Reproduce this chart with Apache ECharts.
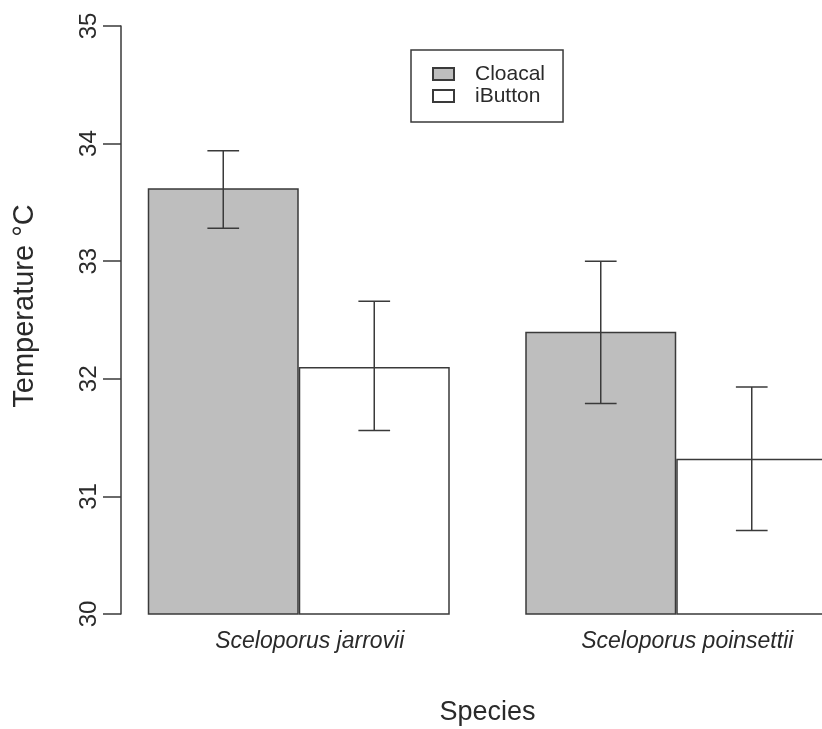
<!DOCTYPE html>
<html>
<head>
<meta charset="utf-8">
<script src="https://cdn.jsdelivr.net/npm/echarts@6/dist/echarts.min.js"></script>
<style>
html,body{margin:0;padding:0;background:#fff;}
#chart{width:822px;height:729px;}
</style>
</head>
<body>
<div id="chart"></div>
<script>
// ---- data ----
const categories = ['Sceloporus jarrovii', 'Sceloporus poinsettii'];
const seriesNames = ['Cloacal', 'iButton'];
const cloacalMean = [33.62, 32.40];
const cloacalLow  = [33.28, 31.79];
const cloacalHigh = [33.94, 33.00];
const ibuttonMean = [32.10, 31.32];
const ibuttonLow  = [31.56, 30.71];
const ibuttonHigh = [32.66, 31.93];
const yTicks = [30, 31, 32, 33, 34, 35];

const FONT = "'Liberation Sans', Arial, sans-serif";
const INK = '#2a2a2a';
const EDGE = '#3a3a3a';

const chart = echarts.init(document.getElementById('chart'), null, {renderer: 'canvas'});

function errorSeries(k, low, high) {
  return {
    type: 'custom',
    name: seriesNames[k] + ' error',
    z: 5,
    silent: true,
    data: categories.map((c, i) => [i, low[i], high[i]]),
    encode: {x: 0, y: [1, 2]},
    renderItem: function (params, api) {
      const i = api.value(0);
      const lo = api.coord([i, api.value(1)]);
      const hi = api.coord([i, api.value(2)]);
      const band = api.size([1, 0])[0];
      const x = lo[0] + (k === 0 ? -0.2 : 0.2) * band;
      const half = 0.042 * band;
      const st = {stroke: EDGE, lineWidth: 1.5};
      return {
        type: 'group',
        children: [
          {type: 'line', shape: {x1: x, y1: lo[1], x2: x, y2: hi[1]}, style: st},
          {type: 'line', shape: {x1: x - half, y1: lo[1], x2: x + half, y2: lo[1]}, style: st},
          {type: 'line', shape: {x1: x - half, y1: hi[1], x2: x + half, y2: hi[1]}, style: st}
        ]
      };
    }
  };
}

const option = {
  animation: false,
  backgroundColor: '#ffffff',
  textStyle: {fontFamily: FONT, color: INK},
  grid: {left: 110, right: -43, top: 26, bottom: 115, containLabel: false, outerBoundsMode: 'none'},
  legend: {
    orient: 'vertical',
    left: 411,
    top: 50,
    padding: [13, 18, 15, 21],
    itemGap: 0,
    itemWidth: 21,
    itemHeight: 12,
    borderColor: EDGE,
    borderWidth: 1.5,
    icon: 'rect',
    data: seriesNames,
    textStyle: {fontFamily: FONT, fontSize: 21, lineHeight: 22, color: INK, padding: [0, 0, 0, 16]}
  },
  xAxis: {
    type: 'category',
    data: categories,
    name: 'Species',
    nameLocation: 'middle',
    nameGap: 85,
    nameTextStyle: {fontFamily: FONT, fontSize: 27, color: INK},
    axisLine: {show: false},
    axisTick: {show: false},
    axisLabel: {
      fontFamily: FONT, fontSize: 23, fontStyle: 'italic', color: INK,
      margin: 16, padding: [0, 0, 0, 22], interval: 0
    },
    splitLine: {show: false}
  },
  yAxis: {
    type: 'value',
    min: yTicks[0],
    max: yTicks[yTicks.length - 1],
    interval: 1,
    offset: -11,
    name: 'Temperature \u00B0C',
    nameLocation: 'middle',
    nameRotate: 90,
    nameGap: 82,
    nameTextStyle: {fontFamily: FONT, fontSize: 29, color: INK, padding: [0, 0, 0, 28]},
    axisLine: {show: true, lineStyle: {color: EDGE, width: 1.5}},
    axisTick: {show: true, inside: false, length: 18, lineStyle: {color: EDGE, width: 1.5}},
    axisLabel: {fontFamily: FONT, fontSize: 24, color: INK, rotate: 90, margin: 20},
    splitLine: {show: false}
  },
  series: [
    {
      type: 'bar',
      name: seriesNames[0],
      data: cloacalMean,
      barGap: '0%',
      barCategoryGap: '20%',
      itemStyle: {color: '#bebebe', borderColor: EDGE, borderWidth: 1.5},
      z: 2
    },
    {
      type: 'bar',
      name: seriesNames[1],
      data: ibuttonMean,
      barGap: '0%',
      barCategoryGap: '20%',
      itemStyle: {color: '#ffffff', borderColor: EDGE, borderWidth: 1.5},
      z: 2
    },
    errorSeries(0, cloacalLow, cloacalHigh),
    errorSeries(1, ibuttonLow, ibuttonHigh)
  ]
};
chart.setOption(option);
</script>
</body>
</html>
